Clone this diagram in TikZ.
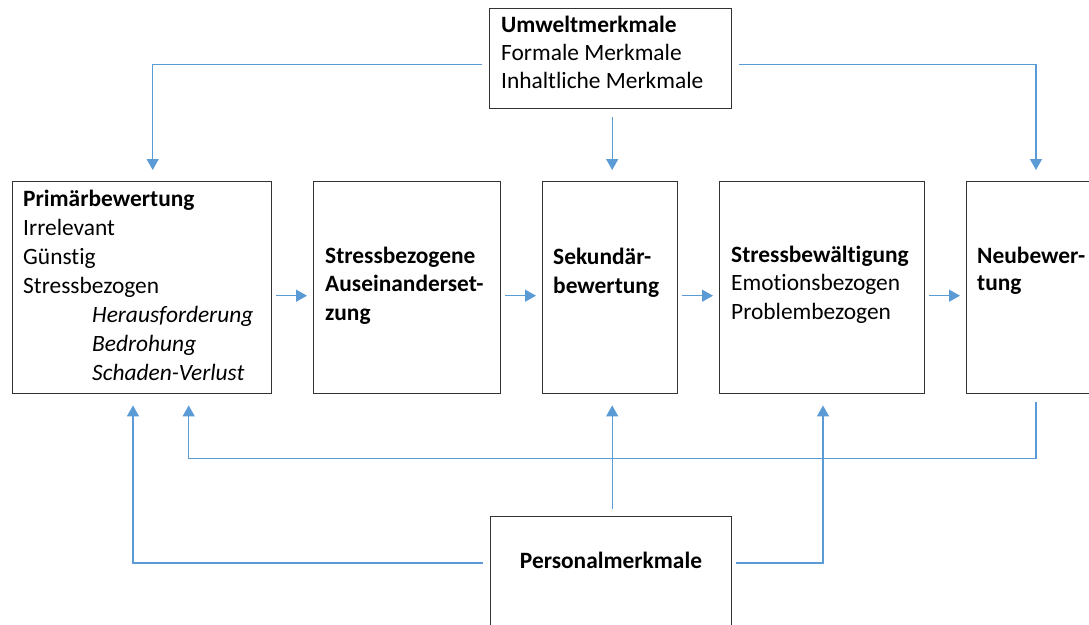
\documentclass[tikz,border=0pt]{standalone}
\usepackage{fontspec}
\setmainfont[Ligatures={NoCommon}]{Carlito}
\usetikzlibrary{arrows.meta,calc}
\definecolor{conblue}{HTML}{5B9BD5}
\definecolor{boxgray}{HTML}{333333}
\begin{document}
\begin{tikzpicture}[x=1pt,y=-1pt,
  box/.style={draw=boxgray,line width=1.4pt,fill=white,inner sep=0pt,anchor=north west},
  txt/.style={anchor=north west,inner sep=0pt,align=left,font=\fontsize{23.4}{29}\selectfont},
  arr/.style={draw=conblue,line width=1.3pt,-{Triangle[width=12pt,length=11pt]}},
  ln/.style={draw=conblue,line width=1.3pt}]
\useasboundingbox (0,0) rectangle (1089,624);
% boxes
\node[box,minimum width=242pt,minimum height=100pt] (U) at (489,8) {};
\node[box,minimum width=259pt,minimum height=212pt] (P1) at (12,181) {};
\node[box,minimum width=187pt,minimum height=212pt] (S1) at (313,181) {};
\node[box,minimum width=135pt,minimum height=212pt] (S2) at (542,181) {};
\node[box,minimum width=205pt,minimum height=212pt] (S3) at (719,181) {};
\node[box,minimum width=160pt,minimum height=212pt] (N) at (966,181) {};
\node[box,minimum width=241pt,minimum height=130pt] (PM) at (490,516) {};
% texts
\node[txt,font=\fontsize{23.4}{28}\selectfont] (Ut) at (501,12) {\rule{0pt}{20pt}\textbf{Umweltmerkmale}\\Formale Merkmale\\Inhaltliche Merkmale};
\node[txt] (P1t) at (23,186) {\rule{0pt}{20pt}\textbf{Primärbewertung}\\Irrelevant\\Günstig\\Stressbezogen\\
  \hspace*{69pt}\textit{Herausforderung}\\\hspace*{69pt}\textit{Bedrohung}\\\hspace*{69pt}\textit{Schaden-Verlust}};
\node[txt,font=\fontsize{23.4}{28.5}\selectfont] (S1t) at (325,243) {\rule{0pt}{20pt}\textbf{Stressbezogene}\\\textbf{Auseinanderset-}\\\textbf{zung}};
\node[txt] (S2t) at (553,244) {\rule{0pt}{20pt}\textbf{Sekundär-}\\\textbf{bewertung}};
\node[txt,font=\fontsize{23.4}{28.5}\selectfont] (S3t) at (731,242) {\rule{0pt}{20pt}\textbf{Stressbewältigung}\\Emotionsbezogen\\Problembezogen};
\node[txt,font=\fontsize{23.4}{27}\selectfont] (Nt) at (977,243) {\rule{0pt}{20pt}\textbf{Neubewer-}\\\textbf{tung}};
\node[anchor=base,inner sep=0pt,font=\fontsize{23.4}{29}\selectfont\bfseries] (PMt) at (611,568) {Personalmerkmale};
% connectors from Umweltmerkmale
\draw[arr] ($(U.west)+(-7,6)$) -| ($(P1.north)+(10.5,-11)$);
\draw[arr] ($(U.east)+(7,6)$) -| ($(N.north west)+(70,-11)$);
\draw[arr] ($(S2.north |- U.south)+(2,8)$) -- ($(S2.north)+(2,-11)$);
% horizontal flow
\draw[arr] ($(P1.east)+(4,8)$) -- ($(S1.west)+(-6,8)$);
\draw[arr] ($(S1.east)+(4,8)$) -- ($(S2.west)+(-6,8)$);
\draw[arr] ($(S2.east)+(4,8)$) -- ($(S3.west)+(-6,8)$);
\draw[arr] ($(S3.east)+(4,8)$) -- ($(N.west)+(-6,8)$);
% feedback
\draw[arr] ($(N.south west)+(70,8)$) -- ($(N.south west)+(70,64)$) -| ($(P1.south)+(46.5,11)$);
% Personalmerkmale
\draw[arr] ($(S2.south |- PM.north)+(2,-7)$) -- ($(S2.south)+(2,11)$);
\draw[arr] ($(PM.north west)+(-7,47)$) -| ($(P1.south west)+(121,11)$);
\draw[arr] ($(PM.north east)+(4,47)$) -| ($(S3.south west)+(104,11)$);
\end{tikzpicture}
\end{document}
